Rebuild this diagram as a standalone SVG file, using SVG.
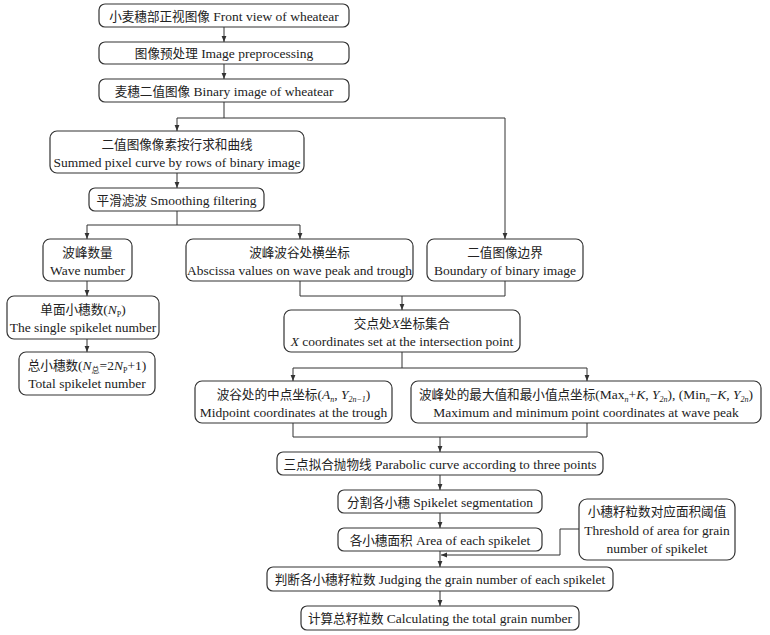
<svg xmlns="http://www.w3.org/2000/svg" width="770" height="635" viewBox="0 0 770 635">
<defs>
<marker id="ah" viewBox="0 0 10 10" refX="10" refY="5" markerWidth="6" markerHeight="6" markerUnits="userSpaceOnUse" orient="auto">
<path d="M0,1 L10,5 L0,9 z" fill="#333"/>
</marker>
<style>
.box{fill:#fff;stroke:#333;stroke-width:1.2}
.t{font-family:"Liberation Serif","Noto Sans CJK SC",serif;font-size:13.5px;fill:#222;text-anchor:middle}
.z{font-size:12.6px}
.i{font-style:italic}
.s{font-size:8px}
.c{fill:none;stroke:#333;stroke-width:1}
.a{marker-end:url(#ah)}
</style>
</defs>
<rect width="770" height="635" fill="#fff"/>
<g id="connectors">
<path class="c a" d="M224,27 V42"/>
<path class="c a" d="M224,64 V79"/>
<path class="c" d="M224,102 V118 M177,118 H505"/>
<path class="c a" d="M177,118 V131"/>
<path class="c a" d="M505,118 V239"/>
<path class="c a" d="M177,173 V188"/>
<path class="c" d="M177,211 V225 M87,225 H300"/>
<path class="c a" d="M87,225 V239"/>
<path class="c a" d="M300,225 V239"/>
<path class="c a" d="M87,281 V296"/>
<path class="c a" d="M87,339 V352"/>
<path class="c" d="M300,281 V296 H505 M505,281 V296"/>
<path class="c a" d="M402,296 V310"/>
<path class="c" d="M402,352 V368 M293,368 H587"/>
<path class="c a" d="M293,368 V381"/>
<path class="c a" d="M587,368 V381"/>
<path class="c" d="M293,423 V437 H587 M587,423 V437"/>
<path class="c a" d="M440,437 V452"/>
<path class="c a" d="M440,475 V490"/>
<path class="c a" d="M440,513 V528"/>
<path class="c a" d="M440,551 V567"/>
<path class="c a" d="M579,529 H560 V555 H441"/>
<path class="c a" d="M440,591 V606"/>
</g>
<g id="n1"><rect class="box" x="99" y="4" width="250" height="23" rx="6"/><text class="t" x="224" y="21"><tspan class="z">小麦穗部正视图像</tspan> Front view of wheatear</text></g>
<g id="n2"><rect class="box" x="99" y="42" width="250" height="22" rx="6"/><text class="t" x="224" y="58"><tspan class="z">图像预处理</tspan> Image preprocessing</text></g>
<g id="n3"><rect class="box" x="99" y="79" width="250" height="23" rx="6"/><text class="t" x="224" y="96"><tspan class="z">麦穗二值图像</tspan> Binary image of wheatear</text></g>
<g id="n4"><rect class="box" x="50" y="131" width="254" height="42" rx="7"/><text class="t z" x="177" y="149">二值图像像素按行求和曲线</text><text class="t" x="177" y="167">Summed pixel curve by rows of binary image</text></g>
<g id="n5"><rect class="box" x="89" y="188" width="175" height="23" rx="6"/><text class="t" x="176.5" y="205"><tspan class="z">平滑滤波</tspan> Smoothing filtering</text></g>
<g id="n6"><rect class="box" x="43" y="239" width="89" height="42" rx="7"/><text class="t z" x="87.5" y="257">波峰数量</text><text class="t" x="87.5" y="275">Wave number</text></g>
<g id="n7"><rect class="box" x="7" y="296" width="152" height="43" rx="7"/><text class="t" x="83" y="314"><tspan class="z">单面小穗数</tspan>(<tspan class="i">N</tspan><tspan class="s" dy="3">P</tspan><tspan dy="-3">)</tspan></text><text class="t" x="83" y="332">The single spikelet number</text></g>
<g id="n8"><rect class="box" x="19" y="352" width="136" height="43" rx="7"/><text class="t" x="87" y="370"><tspan class="z">总小穗数</tspan>(<tspan class="i">N</tspan><tspan class="s" dy="3">总</tspan><tspan dy="-3">=2</tspan><tspan class="i">N</tspan><tspan class="s" dy="3">P</tspan><tspan dy="-3">+1)</tspan></text><text class="t" x="87" y="388">Total spikelet number</text></g>
<g id="n9"><rect class="box" x="186" y="239" width="227" height="42" rx="7"/><text class="t z" x="299.5" y="257">波峰波谷处横坐标</text><text class="t" x="299.5" y="275">Abscissa values on wave peak and trough</text></g>
<g id="n10"><rect class="box" x="427" y="239" width="156" height="42" rx="7"/><text class="t z" x="505" y="257">二值图像边界</text><text class="t" x="505" y="275">Boundary of binary image</text></g>
<g id="n11"><rect class="box" x="284" y="310" width="236" height="42" rx="7"/><text class="t" x="402" y="328"><tspan class="z">交点处</tspan><tspan class="i">X</tspan><tspan class="z">坐标集合</tspan></text><text class="t" x="402" y="346"><tspan class="i">X</tspan> coordinates set at the intersection point</text></g>
<g id="n12"><rect class="box" x="195" y="381" width="197" height="42" rx="7"/><text class="t" x="293.5" y="399"><tspan class="z">波谷处的中点坐标</tspan>(<tspan class="i">A</tspan><tspan class="s i" dy="3">n</tspan><tspan dy="-3">, </tspan><tspan class="i">Y</tspan><tspan class="s i" dy="3">2n−1</tspan><tspan dy="-3">)</tspan></text><text class="t" x="293.5" y="417">Midpoint coordinates at the trough</text></g>
<g id="n13"><rect class="box" x="411" y="381" width="350" height="42" rx="7"/><text class="t" x="586" y="399"><tspan class="z">波峰处的最大值和最小值点坐标</tspan>(Max<tspan class="s i" dy="3">n</tspan><tspan dy="-3">+</tspan><tspan class="i">K</tspan>, <tspan class="i">Y</tspan><tspan class="s i" dy="3">2n</tspan><tspan dy="-3">), (Min</tspan><tspan class="s i" dy="3">n</tspan><tspan dy="-3">−</tspan><tspan class="i">K</tspan>, <tspan class="i">Y</tspan><tspan class="s i" dy="3">2n</tspan><tspan dy="-3">)</tspan></text><text class="t" x="586" y="417">Maximum and minimum point coordinates at wave peak</text></g>
<g id="n14"><rect class="box" x="277" y="452" width="326" height="23" rx="6"/><text class="t" x="440" y="469"><tspan class="z">三点拟合抛物线</tspan> Parabolic curve according to three points</text></g>
<g id="n15"><rect class="box" x="338" y="490" width="204" height="23" rx="6"/><text class="t" x="440" y="507"><tspan class="z">分割各小穗</tspan> Spikelet segmentation</text></g>
<g id="n16"><rect class="box" x="338" y="528" width="204" height="23" rx="6"/><text class="t" x="440" y="545"><tspan class="z">各小穗面积</tspan> Area of each spikelet</text></g>
<g id="n17"><rect class="box" x="579" y="499" width="156" height="61" rx="8"/><text class="t z" x="657" y="516">小穗籽粒数对应面积阈值</text><text class="t" x="657" y="535">Threshold of area for grain</text><text class="t" x="657" y="553">number of spikelet</text></g>
<g id="n18"><rect class="box" x="267" y="567" width="346" height="24" rx="6"/><text class="t" x="440" y="584"><tspan class="z">判断各小穗籽粒数</tspan> Judging the grain number of each spikelet</text></g>
<g id="n19"><rect class="box" x="301" y="606" width="278" height="24" rx="6"/><text class="t" x="440" y="623"><tspan class="z">计算总籽粒数</tspan> Calculating the total grain number</text></g>
</svg>
